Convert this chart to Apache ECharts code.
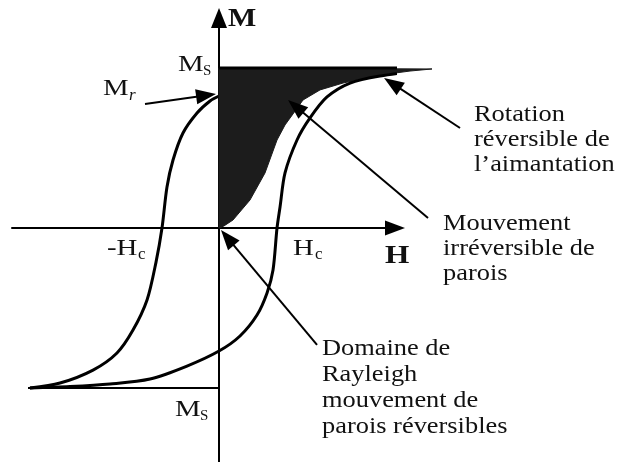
<!DOCTYPE html>
<html>
<head>
<meta charset="utf-8">
<script src="https://cdn.jsdelivr.net/npm/echarts@6/dist/echarts.min.js"></script>
<style>
  html, body { margin: 0; padding: 0; background: #fff; }
  #chart { width: 617px; height: 462px; }
</style>
</head>
<body>
<div id="chart"></div>
<script>
// Hysteresis loop: field H in units of Hc, magnetisation M in units of Ms.

// Descending branch (from +Ms down to -Ms), passing through Mr and -Hc
const descendingBranch = [
  [3.672, 0.994], [3.121, 0.988], [2.431, 0.981], [1.741, 0.969], [1.224, 0.95],
  [0.707, 0.919], [0.362, 0.881], [0, 0.825], [-0.155, 0.794], [-0.379, 0.719],
  [-0.621, 0.594], [-0.793, 0.425], [-0.897, 0.256], [-0.983, 0], [-1.086, -0.213],
  [-1.241, -0.45], [-1.483, -0.638], [-1.759, -0.781], [-2.172, -0.888],
  [-2.741, -0.969], [-3.259, -1.0]
];

// Ascending branch (from -Ms up to +Ms), passing through +Hc
const ascendingBranch = [
  [-3.259, -1.0], [-2.569, -0.991], [-1.879, -0.975], [-1.19, -0.944], [-0.552, -0.863],
  [0, -0.769], [0.362, -0.675], [0.655, -0.544], [0.828, -0.406], [0.931, -0.263],
  [1.0, 0], [1.052, 0.131], [1.138, 0.344], [1.345, 0.55], [1.569, 0.688],
  [1.862, 0.819], [2.259, 0.906], [2.776, 0.95], [3.672, 0.994]
];

// First magnetisation curve, from the demagnetised state to saturation
const firstMagnetisation = [
  [0, 0], [0.086, 0.013], [0.241, 0.05], [0.534, 0.175], [0.793, 0.344],
  [1.0, 0.55], [1.138, 0.644], [1.276, 0.713], [1.448, 0.8], [1.741, 0.863],
  [2.138, 0.906], [2.776, 0.956], [3.293, 0.981], [3.672, 0.994]
];

// Saturation levels +Ms and -Ms
const saturationTop = [[0, 1], [3.672, 1]];
const saturationBottom = [[-3.293, -1], [0, -1]];

// Pointer arrows [fromH, fromM, toH, toM]
const pointers = [
  [-1.276, 0.775, -0.052, 0.8375],   // Mr
  [4.155, 0.625, 2.845, 0.9375],     // rotation réversible
  [3.603, 0.0625, 1.19, 0.8],        // mouvement irréversible
  [1.69, -0.731, 0.034, -0.0125]     // domaine de Rayleigh
];

// Annotation texts
const rotationNote = ['Rotation', 'réversible de', 'l’aimantation'];
const wallNote = ['Mouvement', 'irréversible de', 'parois'];
const rayleighNote = ['Domaine de', 'Rayleigh', 'mouvement de', 'parois réversibles'];

const serif = '"Liberation Serif", "Times New Roman", serif';
const ink = '#111';

function label(text, x, baseline, size, opts) {
  opts = opts || {};
  return {
    type: 'text',
    x: x,
    y: baseline - 0.33 * size,
    scaleX: opts.scaleX || 1.1,
    silent: true,
    z: 10,
    style: {
      text: text,
      fill: ink,
      font: (opts.bold ? 'bold ' : '') + (opts.italic ? 'italic ' : '') + size + 'px ' + serif,
      verticalAlign: 'middle',
      align: 'left'
    }
  };
}

function block(lines, x, firstBaseline, step, size) {
  return lines.map((t, i) => label(t, x, firstBaseline + i * step, size));
}

const chart = echarts.init(document.getElementById('chart'), null, { renderer: 'canvas' });

const option = {
  animation: false,
  backgroundColor: '#fff',
  grid: { left: 12, top: 18, width: 383, height: 444, containLabel: false },
  xAxis: {
    type: 'value', min: -3.569, max: 3.034,
    axisLine: {
      onZero: true, symbol: ['none', 'triangle'], symbolSize: [15, 20],
      lineStyle: { color: '#000', width: 2 }
    },
    axisTick: { show: false }, axisLabel: { show: false }, splitLine: { show: false }
  },
  yAxis: {
    type: 'value', min: -1.4625, max: 1.3125,
    axisLine: {
      onZero: true, symbol: ['none', 'triangle'], symbolSize: [16, 20],
      lineStyle: { color: '#000', width: 2 }
    },
    axisTick: { show: false }, axisLabel: { show: false }, splitLine: { show: false }
  },
  series: [
    {
      type: 'line', name: 'descending', data: descendingBranch, z: 2,
      showSymbol: false, smooth: 0.3, clip: false,
      lineStyle: { color: '#000', width: 3 }
    },
    {
      // shaded region between the first magnetisation curve and +Ms
      type: 'custom',
      name: 'first magnetisation area',
      data: [[0, 0]],
      z: 3,
      renderItem: function (params, api) {
        const pts = firstMagnetisation.map(p => api.coord(p));
        pts.push(api.coord([0, 1]));
        return {
          type: 'polygon',
          shape: { points: pts, smooth: 0 },
          style: { fill: '#1c1c1c', stroke: '#1c1c1c', lineWidth: 1 }
        };
      }
    },
    {
      type: 'line', name: 'ascending', data: ascendingBranch, z: 4,
      showSymbol: false, smooth: 0.3, clip: false,
      lineStyle: { color: '#000', width: 3 }
    },
    {
      type: 'line', name: '+Ms', data: saturationTop, z: 4,
      showSymbol: false, clip: false,
      lineStyle: { color: '#000', width: 3 }
    },
    {
      type: 'line', name: '-Ms', data: saturationBottom, z: 4,
      showSymbol: false, clip: false,
      lineStyle: { color: '#000', width: 2 }
    },
    {
      type: 'custom', name: 'pointers', data: pointers, z: 5, clip: false,
      encode: { x: [0, 2], y: [1, 3] },
      renderItem: function (params, api) {
        const a = api.coord([api.value(0), api.value(1)]);
        const b = api.coord([api.value(2), api.value(3)]);
        const dx = b[0] - a[0], dy = b[1] - a[1];
        const len = Math.hypot(dx, dy);
        const ux = dx / len, uy = dy / len;
        const L = 20, W = 7.5;
        const base = [b[0] - ux * L, b[1] - uy * L];
        return {
          type: 'group',
          children: [
            {
              type: 'line',
              shape: { x1: a[0], y1: a[1], x2: base[0] + ux * 2, y2: base[1] + uy * 2 },
              style: { stroke: '#000', lineWidth: 2 }
            },
            {
              type: 'polygon',
              shape: {
                points: [
                  b,
                  [base[0] - uy * W, base[1] + ux * W],
                  [base[0] + uy * W, base[1] - ux * W]
                ]
              },
              style: { fill: '#000' }
            }
          ]
        };
      }
    }
  ],
  graphic: [
    // axis names
    label('M', 228, 28, 26, { bold: true, scaleX: 1.15 }),
    label('H', 385, 265, 26, { bold: true, scaleX: 1.2 }),
    // saturation, remanence and coercive field
    label('M', 178, 73, 24, { scaleX: 1.2 }),
    label('S', 203, 76, 15, { scaleX: 1.0 }),
    label('M', 103, 97, 24, { scaleX: 1.2 }),
    label('r', 129, 101, 17, { italic: true, scaleX: 1.0 }),
    label('-H', 107, 257, 24, { scaleX: 1.2 }),
    label('c', 138, 260, 17, { scaleX: 1.0 }),
    label('H', 293, 257, 24, { scaleX: 1.2 }),
    label('c', 315, 260, 17, { scaleX: 1.0 }),
    label('M', 175, 418, 24, { scaleX: 1.2 }),
    label('S', 200, 421, 15, { scaleX: 1.0 }),
    // mechanisms
    ...block(rotationNote, 474, 123, 25, 24),
    ...block(wallNote, 443, 232, 25, 24),
    ...block(rayleighNote, 322, 357, 26, 24)
  ]
};

chart.setOption(option);
</script>
</body>
</html>
